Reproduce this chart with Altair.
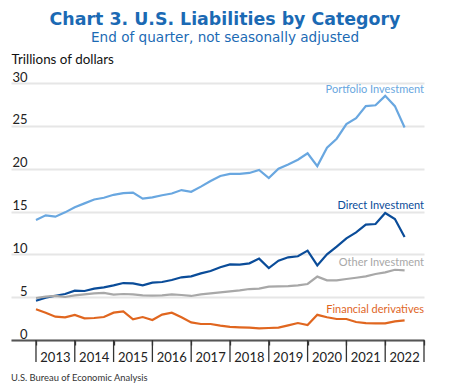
import altair as alt
import pandas as pd

# ---------------- data ----------------
quarters = [f"{y}Q{q}" for y in range(2012, 2023) for q in range(1, 5)]
quarters = quarters[quarters.index("2012Q4"):quarters.index("2022Q2") + 1]

portfolio = [14.0, 14.55, 14.4, 14.9, 15.5, 15.95, 16.4, 16.6, 16.95, 17.15,
             17.2, 16.5, 16.65, 16.9, 17.1, 17.5, 17.3, 17.9, 18.55, 19.15,
             19.4, 19.4, 19.5, 19.85, 18.9, 20.0, 20.5, 21.05, 21.8, 20.3,
             22.45, 23.5, 25.2, 25.9, 27.3, 27.4, 28.5, 27.3, 24.8]
direct = [4.59, 4.94, 5.17, 5.37, 5.76, 5.72, 5.99, 6.15, 6.38, 6.65,
          6.61, 6.38, 6.69, 6.77, 7.0, 7.32, 7.43, 7.78, 8.05, 8.5,
          8.83, 8.79, 8.95, 9.5, 8.4, 9.26, 9.65, 9.77, 10.43, 8.7,
          10.0, 10.9, 11.87, 12.57, 13.46, 13.54, 14.82, 14.12, 12.02]
other = [4.9, 5.06, 5.14, 5.02, 5.21, 5.33, 5.45, 5.49, 5.29, 5.37,
         5.33, 5.21, 5.17, 5.21, 5.33, 5.25, 5.14, 5.33, 5.45, 5.56,
         5.68, 5.8, 5.95, 5.99, 6.22, 6.27, 6.3, 6.38, 6.54, 7.4,
         6.97, 6.97, 7.12, 7.27, 7.43, 7.7, 7.9, 8.2, 8.13]
financial = [3.58, 3.19, 2.72, 2.65, 2.92, 2.53, 2.57, 2.68, 3.19, 3.35,
             2.41, 2.68, 2.33, 2.96, 3.19, 2.65, 2.06, 1.87, 1.87, 1.67,
             1.54, 1.48, 1.44, 1.36, 1.4, 1.44, 1.71, 1.98, 1.75, 2.94,
             2.65, 2.45, 2.45, 2.1, 1.98, 1.95, 1.95, 2.18, 2.3]

series_names = ["Portfolio Investment", "Direct Investment",
                "Other Investment", "Financial derivatives"]
series_colors = ["#69a7e0", "#0a4c99", "#a8a8a8", "#e0661f"]
label_levels = [28.8, 15.3, 8.6, 3.2]  # trillions, where each label sits

years = list(range(2013, 2024))
year_labels = list(range(2013, 2023))
y_ticks = [0, 5, 10, 15, 20, 25, 30]

TITLE = "Chart 3. U.S. Liabilities by Category"
SUBTITLE = "End of quarter, not seasonally adjusted"
YTITLE = "Trillions of dollars"
SOURCE = "U.S. Bureau of Economic Analysis"

# ---------------- tables ----------------
def qpos(q):
    y, n = q.split("Q")
    return int(y) + int(n) / 4.0

rows = []
for name, vals in zip(series_names, [portfolio, direct, other, financial]):
    for q, v in zip(quarters, vals):
        rows.append({"quarter": q, "t": qpos(q), "value": v, "series": name})
df = pd.DataFrame(rows)

labels_df = pd.DataFrame({"series": series_names, "level": label_levels,
                          "t": [2023.0] * 4})
years_df = pd.DataFrame({"year": [str(y) for y in year_labels],
                         "t": [y + 0.5 for y in year_labels]})
quarter_ticks = [2013 + i / 4 for i in range(41)]

W, H = 413, 257
FONT = "Lato"
HEAD = "DejaVu Sans"
BLUE = "#1b6ab4"

xscale = alt.Scale(domain=[2012.356, 2023.0], nice=False, zero=False)
yscale = alt.Scale(domain=[0, 30], nice=False)
cscale = alt.Scale(domain=series_names, range=series_colors)

base = alt.Chart(df)

lines = base.mark_line(strokeWidth=2.2).encode(
    x=alt.X("t:Q", scale=xscale,
            axis=alt.Axis(values=quarter_ticks, title=None, grid=False,
                          tickSize=5, tickWidth=1.3, tickColor="#333",
                          domainColor="#555", domainWidth=2, labels=False)),
    y=alt.Y("value:Q", scale=yscale,
            axis=alt.Axis(values=y_ticks, title=YTITLE, titleAngle=0,
                          titleAlign="left", titleBaseline="alphabetic",
                          titleX=0, titleY=-20, titleFont=FONT,
                          titleFontSize=13.4, titleFontWeight="normal",
                          titleColor="#111",
                          grid=True, gridColor="#e6e6e6", gridWidth=2,
                          domain=False, ticks=False, tickSize=0,
                          labelAlign="right", labelPadding=-16,
                          labelBaseline="alphabetic", labelOffset=-2,
                          labelFont=FONT, labelFontSize=13,
                          labelColor="#222")),
    color=alt.Color("series:N", scale=cscale, legend=None),
    detail="series:N",
)

major = alt.Chart(pd.DataFrame({"t": years})).mark_rule(
    color="#333", strokeWidth=1.3).encode(
    x=alt.X("t:Q", scale=xscale), y=alt.value(H), y2=alt.value(H + 22))

year_text = alt.Chart(years_df).mark_text(
    align="center", baseline="alphabetic", font=FONT, fontSize=13,
    color="#222").encode(
    x=alt.X("t:Q", scale=xscale), y=alt.value(H + 21.5), text="year:N")

series_labels = alt.Chart(labels_df).mark_text(
    align="right", baseline="alphabetic", font=FONT, fontSize=11).encode(
    x=alt.X("t:Q", scale=xscale), y=alt.Y("level:Q", scale=yscale),
    text="series:N",
    color=alt.Color("series:N", scale=cscale, legend=None))

title = alt.Chart(pd.DataFrame({"s": [TITLE]})).mark_text(
    align="center", baseline="alphabetic", font=HEAD, fontSize=17.4,
    fontWeight="bold", color=BLUE).encode(
    text="s:N", x=alt.value(214), y=alt.value(-58.5))

subtitle = alt.Chart(pd.DataFrame({"s": [SUBTITLE]})).mark_text(
    align="center", baseline="alphabetic", font=HEAD, fontSize=13.6,
    color=BLUE).encode(
    text="s:N", x=alt.value(214), y=alt.value(-41.5))

source = alt.Chart(pd.DataFrame({"s": [SOURCE]})).mark_text(
    align="left", baseline="alphabetic", font=FONT, fontSize=9.4,
    color="#333").encode(
    text="s:N", x=alt.value(0), y=alt.value(H + 41))

chart = alt.layer(lines, major, year_text, series_labels, title, subtitle,
                  source).properties(
    width=W, height=H,
    autosize=alt.AutoSizeParams(type="none"),
    padding={"left": 3, "top": 75, "right": 12, "bottom": 43},
).configure_view(stroke=None)

chart.save("out.html", embed_options={"renderer": "svg", "actions": False})
